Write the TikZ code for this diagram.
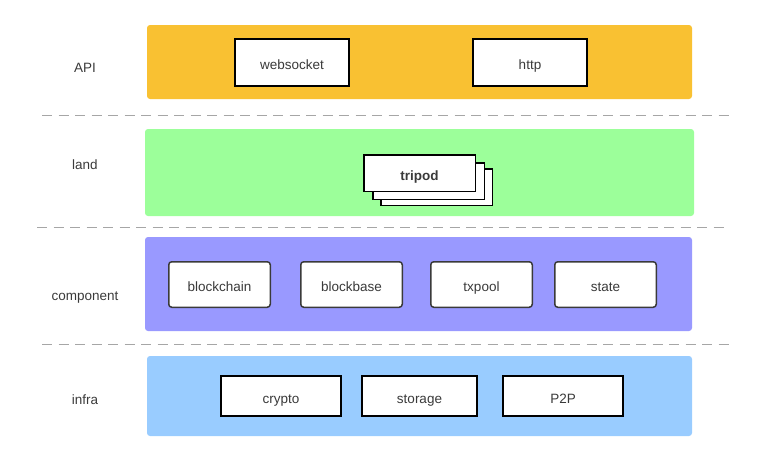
\documentclass[tikz,border=0pt]{standalone}
\usepackage{fontspec}
\setmainfont{Liberation Sans}
\usetikzlibrary{positioning}

\definecolor{apiyellow}{HTML}{F9C132}
\definecolor{landgreen}{HTML}{9CFF9A}
\definecolor{complilac}{HTML}{9999FF}
\definecolor{infrablue}{HTML}{99CCFF}
\definecolor{txtgrey}{HTML}{3A3A3A}

\begin{document}
\begin{tikzpicture}[x=1pt,y=-1pt,
        font=\fontsize{13.5}{16}\selectfont,
        layer/.style={rounded corners=3pt,inner sep=0pt},
        mod/.style={draw=black,line width=1.8pt,fill=white,text=txtgrey,outer sep=0pt,
          inner sep=0pt,text height=14pt,text depth=0pt,
          minimum width=114.2pt,minimum height=47.2pt},
        comp/.style={draw=txtgrey,line width=1.5pt,rounded corners=3pt,fill=white,
          text=txtgrey,outer sep=0pt,inner sep=0pt,text height=14pt,text depth=0pt,
          minimum width=101.5pt,minimum height=45.5pt},
        lib/.style={mod,minimum width=120.2pt,minimum height=40.2pt},
        stack/.style={mod,line width=1.5pt,minimum width=111.5pt,minimum height=36.5pt},
        tag/.style={text=txtgrey},
        sep/.style={draw=gray!70,line width=1pt,dash pattern=on 10pt off 6.5pt}]
  \useasboundingbox (0,0) rectangle (757,461);

  % layers
  \node[layer,fill=apiyellow,minimum width=545pt,minimum height=74pt] (apibar) at (419.5,62) {};
  \node[layer,fill=landgreen,minimum width=549pt,minimum height=87pt] (landbar) at (419.5,172.5) {};
  \node[layer,fill=complilac,minimum width=547pt,minimum height=94pt] (compbar) at (418.5,284) {};
  \node[layer,fill=infrablue,minimum width=545pt,minimum height=80pt] (infrabar) at (419.5,396) {};

  \node[tag] (api) at (85,68) {API};
  \node[tag] (land) at (85,165) {land};
  \node[tag] (component) at (85,297.5) {component};
  \node[tag] (infra) at (85,400) {infra};

  % separators
  \draw[sep] (42,115) -- (733,115);
  \draw[sep] (37,227) -- (729,227);
  \draw[sep] (42,344) -- (733,344);

  % API
  \node[mod] (websocket) at (292,62.5) {websocket};
  \node[mod] (http) [right=123.8pt of websocket] {http};

  % land
  \node[stack] (tripod3) at (436.5,187) {};
  \node[stack] (tripod2) at (428.5,181) {};
  \node[stack] (tripod) at (419.5,173) {\bfseries tripod};

  % component
  \node[comp] (blockchain) at (219.5,284.5) {blockchain};
  \node[comp] (blockbase) [right=30.5pt of blockchain] {blockbase};
  \node[comp] (txpool) [right=28.5pt of blockbase] {txpool};
  \node[comp] (state) [right=22.5pt of txpool] {state};

  % infra
  \node[lib] (crypto) at (281,396) {crypto};
  \node[lib,minimum width=115.2pt] (storage) [right=20.8pt of crypto] {storage};
  \node[lib] (p2p) [right=25.8pt of storage] {P2P};
\end{tikzpicture}
\end{document}
